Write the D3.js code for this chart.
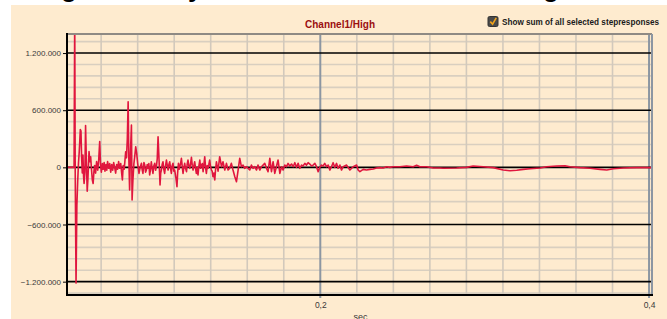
<!DOCTYPE html>
<html>
<head>
<meta charset="utf-8">
<style>
  body { margin: 0; background: #fff; }
  svg { display: block; font-family: "Liberation Sans", Arial, sans-serif; }
</style>
<title>Channel1/High</title>
</head>
<body>
<script src="https://cdn.jsdelivr.net/npm/d3@7/dist/d3.min.js"></script>
<script>

var chartTitle = "Channel1/High";
var checkboxLabel = "Show sum of all selected stepresponses";
var xAxisTitle = "sec";
var xTicks = [0.2, 0.4];
var yTicks = [-1200, -600, 0, 600, 1200];   // in thousands
var xDomain = [0.0459, 0.4018];
var yDomain = [-1340, 1400];

// [sec, value in thousands]
var response = [
  [0.0459, 0], [0.0502, 0], [0.0506, 1600], [0.0509, -50], [0.0514, -1215], [0.0519, -400],
  [0.0524, -150], [0.0529, 50], [0.0533, 150], [0.0536, 250], [0.0540, 398], [0.0544, 380],
  [0.0548, 100], [0.0552, -60], [0.0556, 130], [0.0560, -100], [0.0563, -170], [0.0568, -50],
  [0.0572, 440], [0.0577, 50], [0.0582, -250], [0.0586, -130], [0.0593, 165], [0.0598, 60],
  [0.0603, 110], [0.0608, -20], [0.0613, -130], [0.0618, -170], [0.0623, -40], [0.0627, 20],
  [0.0633, -60], [0.0639, 60], [0.0646, -30], [0.0652, 80], [0.0658, 270], [0.0663, 30],
  [0.0668, -50], [0.0674, 40], [0.0679, -20], [0.0685, 50], [0.0690, -40], [0.0696, 30],
  [0.0701, -30], [0.0706, 60], [0.0713, -10], [0.0719, 40], [0.0725, -50], [0.0731, 30],
  [0.0737, -30], [0.0743, 50], [0.0749, 0], [0.0755, -60], [0.0761, 30], [0.0767, -20],
  [0.0773, 60], [0.0779, -10], [0.0786, 40], [0.0792, -70], [0.0796, -133], [0.0801, 20],
  [0.0807, -20], [0.0812, 80], [0.0816, 164], [0.0821, 100], [0.0826, 300], [0.0831, 688],
  [0.0835, 100], [0.0840, -237], [0.0845, 150], [0.0851, 443], [0.0855, -342], [0.0860, -133],
  [0.0866, 40], [0.0871, 112], [0.0877, 216], [0.0883, 147], [0.0889, 40], [0.0897, -63],
  [0.0905, 7], [0.0912, 42], [0.0916, -20], [0.0921, -63], [0.0927, 50], [0.0932, 24],
  [0.0937, -50], [0.0942, -28], [0.0947, 30], [0.0952, -10], [0.0957, 40], [0.0962, -80],
  [0.0967, -20], [0.0972, 59], [0.0977, -10], [0.0982, -63], [0.0988, 20], [0.0993, 42],
  [0.0998, -30], [0.1003, 7], [0.1008, 90], [0.1013, 321], [0.1019, 77], [0.1025, -185],
  [0.1029, -60], [0.1033, -28], [0.1038, 30], [0.1043, 59], [0.1048, -20], [0.1053, -63],
  [0.1058, 10], [0.1064, 77], [0.1069, 20], [0.1074, -28], [0.1079, 30], [0.1084, 59],
  [0.1089, -10], [0.1094, -63], [0.1099, 20], [0.1104, 42], [0.1109, -40], [0.1114, -28],
  [0.1122, -115], [0.1128, -202], [0.1132, -60], [0.1137, 42], [0.1141, -20], [0.1145, 7],
  [0.1150, 40], [0.1155, 94], [0.1160, 10], [0.1165, -63], [0.1170, 0], [0.1175, 42],
  [0.1180, -10], [0.1186, -45], [0.1190, 30], [0.1195, 77], [0.1200, 20], [0.1206, -10],
  [0.1211, 40], [0.1216, 105], [0.1221, 20], [0.1226, -28], [0.1231, 20], [0.1236, 59],
  [0.1241, -10], [0.1246, -63], [0.1251, 0], [0.1256, -80], [0.1261, 10], [0.1267, 77],
  [0.1272, -10], [0.1277, 24], [0.1282, 40], [0.1287, -45], [0.1292, 30], [0.1297, 112],
  [0.1302, 0], [0.1307, -63], [0.1312, 20], [0.1317, -10], [0.1322, 30], [0.1327, 77],
  [0.1332, 10], [0.1338, -28], [0.1342, -40], [0.1347, -98], [0.1353, -60], [0.1358, -133],
  [0.1363, -20], [0.1368, 59], [0.1373, 10], [0.1378, -40], [0.1383, 40], [0.1388, 112],
  [0.1399, 7], [0.1408, 59], [0.1419, -28],
  [0.1429, 42], [0.1439, -28], [0.1449, -10], [0.1459, 42], [0.1469, -28], [0.1480, -98],
  [0.1490, -150], [0.1500, -28], [0.1510, 94], [0.1520, 7], [0.1530, 24], [0.1540, -10],
  [0.1551, 7], [0.1571, -28], [0.1581, 24], [0.1591, -10], [0.1601, 7], [0.1612, -28],
  [0.1621, 24], [0.1632, -28], [0.1642, 7], [0.1662, 42], [0.1673, -10], [0.1682, -45],
  [0.1693, 94], [0.1703, -45], [0.1713, 59], [0.1723, -63], [0.1733, 7], [0.1743, 77],
  [0.1754, -63], [0.1764, 7], [0.1774, -28], [0.1784, 24], [0.1794, 7], [0.1804, 42],
  [0.1814, 14], [0.1825, 35], [0.1835, 7], [0.1845, 49], [0.1855, 0], [0.1865, 42],
  [0.1875, -10], [0.1886, 24], [0.1895, 14], [0.1906, 42], [0.1916, 24], [0.1926, 49],
  [0.1936, 35], [0.1947, 14], [0.1956, 24], [0.1967, 42], [0.1977, 7], [0.1987, -45],
  [0.1997, 0], [0.2007, 24], [0.2017, 14], [0.2027, 42], [0.2038, 7], [0.2048, 24],
  [0.2058, -28], [0.2068, 7], [0.2078, 49], [0.2088, 0], [0.2099, 42], [0.2108, -10],
  [0.2119, 24], [0.2129, -28], [0.2139, 7], [0.2160, 24], [0.2180, -28], [0.2200, 7],
  [0.2221, 24], [0.2230, -28], [0.2241, -45], [0.2261, -21], [0.2281, -28], [0.2302, -21],
  [0.2322, -17], [0.2342, -7], [0.2362, -3], [0.2383, -7], [0.2403, 7], [0.2423, 0],
  [0.2443, 7], [0.2484, 7], [0.2525, 14], [0.2565, 7], [0.2586, 21], [0.2606, 7],
  [0.2647, 7], [0.2687, -7], [0.2728, -7], [0.2748, -10], [0.2829, -7], [0.2890, 0],
  [0.2930, 14], [0.2991, 7], [0.3052, -3], [0.3113, -28], [0.3154, -35], [0.3195, -31],
  [0.3235, -21], [0.3276, -14], [0.3337, -7], [0.3377, 7], [0.3438, 14], [0.3489, 17],
  [0.3519, 7], [0.3580, -3], [0.3641, -10], [0.3702, -21], [0.3743, -28], [0.3783, -14],
  [0.3844, -7], [0.3925, -3], [0.4006, -3], [0.4018, -3]
];

var width = 667, height = 319;
var margin = {top: 34, right: 15, bottom: 24, left: 67};
var plotW = width - margin.left - margin.right,
    plotH = height - margin.top - margin.bottom;

var de = d3.formatLocale({decimal: ",", thousands: ".", grouping: [3], currency: ["", " €"]});
var fmtY = de.format(",d"), fmtX = de.format(".1f");

var x = d3.scaleLinear().domain(xDomain).range([0, plotW]);
var y = d3.scaleLinear().domain(yDomain).range([plotH, 0]);

var svg = d3.select("body").append("svg")
    .attr("width", width)
    .attr("height", height);

// panel
svg.append("rect")
    .attr("x", 11).attr("y", 5)
    .attr("width", width - 11).attr("height", height - 5)
    .attr("fill", "#feebcf");

// heading of the page above, only its descenders show
svg.append("text")
    .attr("y", -3)
    .style("font-size", "26px").style("font-weight", "bold")
    .selectAll("tspan")
    .data([["g", 61], ["y", 188], ["g", 543]])
    .enter().append("tspan")
    .attr("x", function(d) { return d[1]; })
    .text(function(d) { return d[0]; });

svg.append("text")
    .attr("x", 340).attr("y", 27.5)
    .attr("text-anchor", "middle")
    .attr("fill", "#9b0f0f")
    .style("font-size", "10px").style("font-weight", "bold")
    .text(chartTitle);

// checkbox
svg.append("rect")
    .attr("x", 488).attr("y", 16.5).attr("width", 10).attr("height", 10)
    .attr("rx", 1.5).attr("fill", "#4a4a4a").attr("stroke", "#333");
svg.append("path")
    .attr("d", "M490.3,21.6 L492.6,24.2 L496.2,17.8")
    .attr("fill", "none").attr("stroke", "#f2a31b").attr("stroke-width", 1.6);
svg.append("text")
    .attr("x", 502).attr("y", 25)
    .attr("textLength", 157).attr("lengthAdjust", "spacingAndGlyphs")
    .attr("fill", "#1a1a1a")
    .style("font-size", "9.5px").style("font-weight", "bold")
    .text(checkboxLabel);

var g = svg.append("g").attr("transform", "translate(" + margin.left + "," + margin.top + ")");

g.append("clipPath").attr("id", "plot-clip")
  .append("rect").attr("width", plotW).attr("height", plotH);

// GRID
var step = 0.2 / 9;
var xMinor = d3.range(-9, 10).map(function(i) { return 0.2 + i * step; })
    .filter(function(v) { return v > xDomain[0] && v < xDomain[1] && Math.abs(v - 0.2) > 1e-6 && Math.abs(v - 0.4) > 1e-6; });
var yMinor = d3.range(-11, 12).map(function(i) { return i * 120; })
    .filter(function(v) { return v % 600 !== 0 && v > yDomain[0] && v < yDomain[1]; });

g.append("g").selectAll("line").data(yMinor).enter().append("line")
    .attr("x1", 0).attr("x2", plotW)
    .attr("y1", function(d) { return y(d); }).attr("y2", function(d) { return y(d); })
    .attr("stroke", "#d9cfc0").attr("stroke-width", 1.6);

g.append("g").selectAll("line").data(xMinor).enter().append("line")
    .attr("x1", function(d) { return x(d); }).attr("x2", function(d) { return x(d); })
    .attr("y1", 0).attr("y2", plotH)
    .attr("stroke", "#d2c9bc").attr("stroke-width", 1.6);

g.append("g").selectAll("line").data(xTicks).enter().append("line")
    .attr("x1", function(d) { return x(d); }).attr("x2", function(d) { return x(d); })
    .attr("y1", 0).attr("y2", plotH + 3)
    .attr("stroke", "#8c96a2").attr("stroke-width", 2);

g.append("g").selectAll("line").data(yTicks).enter().append("line")
    .attr("x1", 0).attr("x2", plotW)
    .attr("y1", function(d) { return y(d); }).attr("y2", function(d) { return y(d); })
    .attr("stroke", "#000").attr("stroke-width", 1.6);

// SIGNAL
var line = d3.line()
    .x(function(d) { return x(d[0]); })
    .y(function(d) { return y(d[1]); });

g.append("path")
    .datum(response)
    .attr("clip-path", "url(#plot-clip)")
    .attr("d", line)
    .attr("fill", "none")
    .attr("stroke", "#e0163e")
    .attr("stroke-width", 1.6)
    .attr("stroke-linejoin", "round");

// FRAME
g.append("line").attr("x1", 0).attr("x2", plotW).attr("y1", 0).attr("y2", 0)
    .attr("stroke", "#8f8a84").attr("stroke-width", 2);
g.append("line").attr("x1", plotW).attr("x2", plotW).attr("y1", 0).attr("y2", plotH)
    .attr("stroke", "#8c96a2").attr("stroke-width", 2);

// AXES
var yAxis = g.append("g")
    .call(d3.axisLeft(y).tickValues(yTicks).tickSize(4).tickPadding(2)
        .tickFormat(function(d) { return fmtY(d * 1000); }));
yAxis.select(".domain").remove();
yAxis.selectAll("text").attr("fill", "#3a3a3a").style("font-size", "8px");
yAxis.selectAll(".tick line").attr("stroke", "#000");

var xAxis = g.append("g")
    .attr("transform", "translate(0," + plotH + ")")
    .call(d3.axisBottom(x).tickValues(xTicks).tickSize(0).tickPadding(7).tickFormat(fmtX));
xAxis.select(".domain").remove();
xAxis.selectAll("text").attr("fill", "#3a3a3a").style("font-size", "8.5px");

g.append("line").attr("x1", 0).attr("x2", 0).attr("y1", -1).attr("y2", plotH + 1)
    .attr("stroke", "#000").attr("stroke-width", 2);
g.append("line").attr("x1", 0).attr("x2", plotW + 1).attr("y1", plotH).attr("y2", plotH)
    .attr("stroke", "#000").attr("stroke-width", 2);

svg.append("text")
    .attr("x", margin.left + plotW / 2 + 1).attr("y", 320)
    .attr("text-anchor", "middle")
    .attr("fill", "#3a3a3a")
    .style("font-size", "9px")
    .text(xAxisTitle);

</script>
</body>
</html>
